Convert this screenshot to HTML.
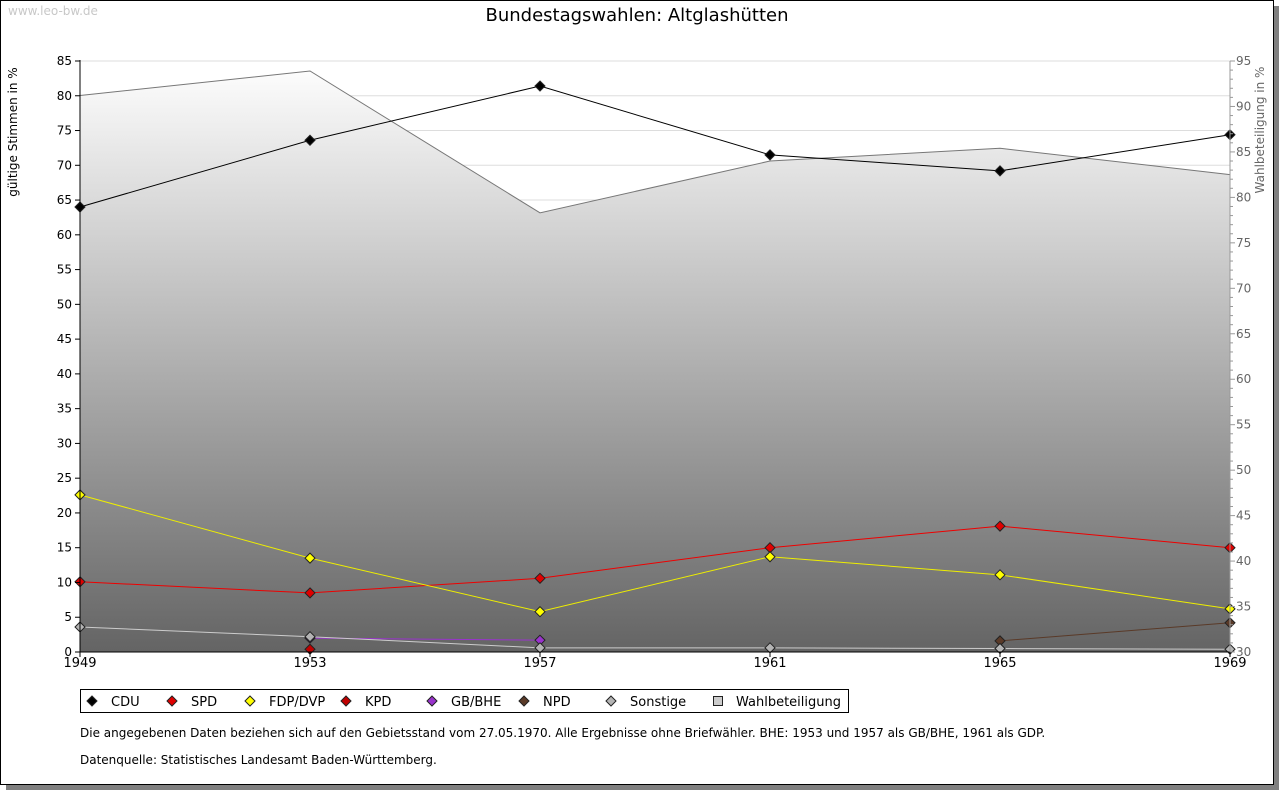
<!DOCTYPE html>
<html><head><meta charset="utf-8"><style>
body{margin:0;background:#fff;width:1280px;height:791px;overflow:hidden;font-family:"Liberation Sans","DejaVu Sans",sans-serif}
</style></head><body>
<svg width="1280" height="791" xmlns="http://www.w3.org/2000/svg" style="font-family:'DejaVu Sans','Liberation Sans',sans-serif">
<defs><linearGradient id="g" gradientUnits="userSpaceOnUse" x1="0" y1="61" x2="0" y2="652"><stop offset="0" stop-color="#ffffff"/><stop offset="1" stop-color="#646464"/></linearGradient></defs>
<rect x="6" y="6" width="1273" height="784" fill="#808080"/>
<rect x="0.5" y="0.5" width="1273" height="784" fill="#fff" stroke="#000"/>
<text x="8" y="15" font-size="12" fill="#c8c8c8">www.leo-bw.de</text>
<text x="637" y="21" font-size="18" text-anchor="middle">Bundestagswahlen: Altglashütten</text>
<text transform="translate(17,132) rotate(-90)" font-size="12" text-anchor="middle">gültige Stimmen in %</text>
<text transform="translate(1264,130) rotate(-90)" font-size="12" fill="#666" text-anchor="middle">Wahlbeteiligung in %</text>
<g id="grid"></g><g id="area"></g><g id="lines"></g><g id="axes"></g>
<g id="legend"></g>
<text x="80" y="737" font-size="12">Die angegebenen Daten beziehen sich auf den Gebietsstand vom 27.05.1970. Alle Ergebnisse ohne Briefwähler. BHE: 1953 und 1957 als GB/BHE, 1961 als GDP.</text>
<text x="80" y="764" font-size="12">Datenquelle: Statistisches Landesamt Baden-Württemberg.</text>
</svg>
<script>
const years=[1949,1953,1957,1961,1965,1969];
const cdu=[64.0,73.6,81.4,71.5,69.2,74.4];
const spd=[10.1,8.5,10.6,15.0,18.1,15.0];
const fdp=[22.6,13.5,5.8,13.7,11.1,6.2];
const kpd=[null,0.4,null,null,null,null];
const gbbhe=[null,2.0,1.7,null,null,null];
const npd=[null,null,null,null,1.6,4.2];
const sonst=[3.6,2.2,0.6,0.6,0.5,0.4];
const wahl=[91.2,93.9,78.3,84.0,85.4,82.5];
const leftTicks=[0,5,10,15,20,25,30,35,40,45,50,55,60,65,70,75,80,85];
const rightTicks=[30,35,40,45,50,55,60,65,70,75,80,85,90,95];
const NS="http://www.w3.org/2000/svg";
const X0=80,X1=1230,Y0=652,Y1=61;
const xs=i=>X0+(X1-X0)*i/(years.length-1);
const yl=v=>Y0-(v/85)*(Y0-Y1);
const yr=v=>Y0-((v-30)/65)*(Y0-Y1);
function mk(p,tag,a){const e=document.createElementNS(NS,tag);for(const k in a)e.setAttribute(k,a[k]);p.appendChild(e);return e;}
const grid=document.getElementById('grid'),area=document.getElementById('area'),lines=document.getElementById('lines'),axes=document.getElementById('axes'),legend=document.getElementById('legend');
mk(grid,'rect',{x:X0,y:Y1,width:X1-X0,height:Y0-Y1,fill:'#fff'});
leftTicks.forEach(v=>{const y=yl(v);
 const l=mk(grid,'line',{x1:X0,x2:X1,y1:y,y2:y,stroke:'#ddd'});
 
 mk(axes,'line',{x1:X0-5,x2:X0,y1:y,y2:y,stroke:'#000'});
 const t=mk(axes,'text',{x:X0-8,y:y+4,'font-size':12,'text-anchor':'end'});t.textContent=v;
 });
for(let v=30;v<=95;v++){const y=yr(v);mk(axes,'line',{x1:X1,x2:X1+(v%5?3:5),y1:y,y2:y,stroke:'#999'});}
rightTicks.forEach(v=>{const y=yr(v);const t=mk(axes,'text',{x:X1+6,y:y+4,'font-size':12,fill:'#666'});t.textContent=v;
 });
let pts=wahl.map((v,i)=>xs(i)+','+yr(v)).join(' ');
const poly=mk(area,'polygon',{points:X0+','+Y0+' '+pts+' '+X1+','+Y0,fill:'url(#g)'});

const wl=mk(area,'polyline',{points:pts,fill:'none',stroke:'#777','stroke-width':1});

mk(axes,'line',{x1:X0,x2:X0,y1:Y1-1,y2:Y0,stroke:'#000'});
mk(axes,'line',{x1:X0,x2:X1,y1:Y0,y2:Y0,stroke:'#000'});
mk(axes,'line',{x1:X1,x2:X1,y1:Y1,y2:Y0,stroke:'#999'});
years.forEach((yv,i)=>{mk(axes,'line',{x1:xs(i),x2:xs(i),y1:Y0,y2:Y0+5,stroke:'#000'});
 const t=mk(axes,'text',{x:xs(i),y:Y0+15,'font-size':13,'text-anchor':'middle'});t.textContent=yv;
 });
function diamond(p,x,y,c){return mk(p,'polygon',{points:`${x},${y-5} ${x+5},${y} ${x},${y+5} ${x-5},${y}`,fill:c,stroke:'#222','stroke-width':1});}
const series=[['CDU',cdu,'#000','#000'],['SPD',spd,'#e00000','#e00'],['FDP/DVP',fdp,'#ffff00','#ee0'],['KPD',kpd,'#c00000','#c00'],['GB/BHE',gbbhe,'#9933cc','#93c'],['NPD',npd,'#5a3a28','#5a3a28'],['Sonstige',sonst,'#b4b4b4','#ccc']];
series.forEach(([n,d,c,lc])=>{
 const g=mk(lines,'g',{});
 
 const p=[];d.forEach((v,i)=>{if(v!=null)p.push(xs(i)+','+yl(v));});
 if(p.length>1)mk(g,'polyline',{points:p.join(' '),fill:'none',stroke:lc,'stroke-width':1});
 d.forEach((v,i)=>{if(v!=null){const m=diamond(g,xs(i),yl(v),c);
  }});
});
mk(legend,'rect',{x:80.5,y:689.5,width:768,height:23,fill:'#fff',stroke:'#000'});
const li=[['CDU','#000',92],['SPD','#e00000',172],['FDP/DVP','#ffff00',250],['KPD','#c00000',346],['GB/BHE','#9933cc',432],['NPD','#5a3a28',524],['Sonstige','#b4b4b4',611]];
li.forEach(([n,c,x])=>{const g=mk(legend,'g',{});
 
 mk(g,'polygon',{points:`${x},${696} ${x+5},${701} ${x},${706} ${x-5},${701}`,fill:c,stroke:'#222'});
 const t=mk(g,'text',{x:x+19,y:706,'font-size':13});t.textContent=n;});
const gw=mk(legend,'g',{});

mk(gw,'rect',{x:713.5,y:696.5,width:9,height:9,fill:'#ccc',stroke:'#222'});
const tw=mk(gw,'text',{x:736,y:706,'font-size':13});tw.textContent='Wahlbeteiligung';
</script>
</body></html>
